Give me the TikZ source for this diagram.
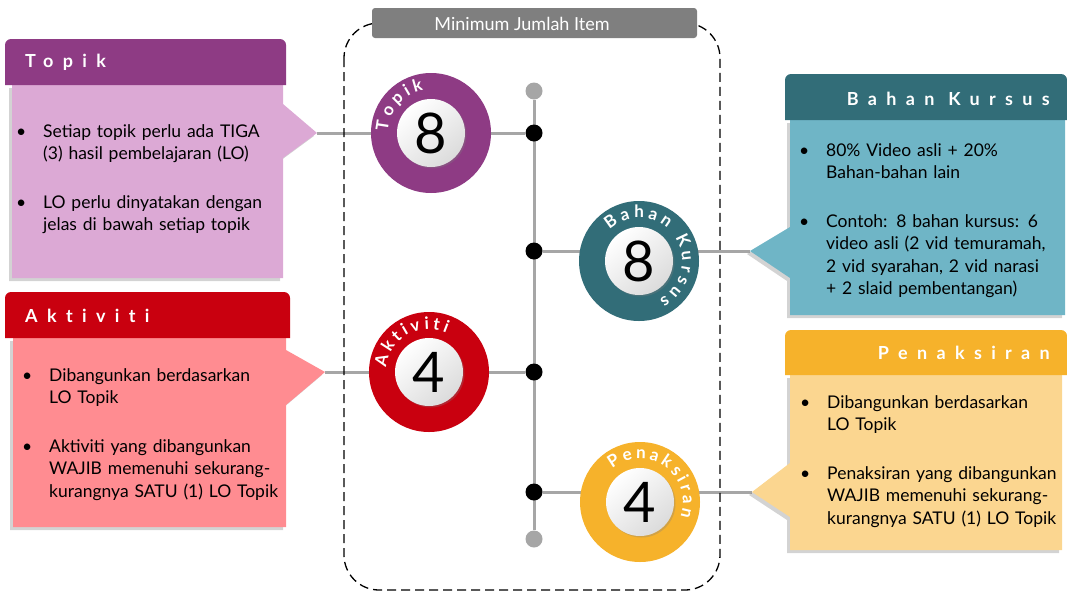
\documentclass[tikz,border=0pt]{standalone}
\usepackage{fontspec}
\setmainfont{Lato}
\usetikzlibrary{shadows,decorations.text}
\definecolor{tpk}{HTML}{8E3B84}
\definecolor{tpkL}{HTML}{DCA9D5}
\definecolor{akt}{HTML}{C9000F}
\definecolor{aktL}{HTML}{FF8C91}
\definecolor{bhn}{HTML}{326D78}
\definecolor{bhnL}{HTML}{6FB5C6}
\definecolor{pen}{HTML}{F6B22B}
\definecolor{penL}{HTML}{FBD690}
\definecolor{lgray}{HTML}{A6A6A6}
\definecolor{dgray}{HTML}{7F7F7F}
\pgfdeclarelayer{bg}
\pgfsetlayers{bg,main}
\newcommand\nl{\hfil\break}
\newcommand\bitem[1]{\noindent\hangindent=27pt\hangafter=1\makebox[27pt][l]{\textbullet}#1\par}
\begin{document}
\begin{tikzpicture}[x=1pt,y=1pt,
  conn/.style={draw=lgray,line width=3pt},
  bodyshape/.style={drop shadow={shadow xshift=-3pt,shadow yshift=-3pt,opacity=.35}},
  hdrtext/.style={font=\fontsize{18}{18}\selectfont\bfseries\addfontfeature{LetterSpace=52,Ligatures=NoCommon},text=white,inner sep=0pt},
  bodytext/.style={font=\fontsize{17.5}{22.5}\selectfont,text width=300pt,inner sep=0pt,anchor=base west,text=black},
  ring/.style={circle,minimum size=120pt,inner sep=0pt},
  ball/.style={circle,minimum size=68pt,inner sep=0pt,shading=axis,top color=white,bottom color=gray!28,shading angle=40,
     drop shadow={shadow xshift=1.5pt,shadow yshift=-1.5pt,opacity=.3},font=\fontsize{56}{56}\selectfont},
  bigdot/.style={circle,fill=black,minimum size=17pt,inner sep=0pt},
  enddot/.style={circle,fill=lgray,minimum size=17pt,inner sep=0pt},
  arclabel/.style={decorate,decoration={text along path,text align={fit to path},
     text={|\fontsize{17}{17}\selectfont\bfseries\color{white}|#1}}}
]
\useasboundingbox (0,0) rectangle (1067,-592);

% dashed frame and its title
\draw[line width=1.3pt,dash pattern=on 9pt off 5pt,rounded corners=35pt] (344,-23) rectangle (720,-590);
\node[fill=dgray,rounded corners=3pt,minimum width=325pt,minimum height=30pt,inner sep=0pt] (lblbox) at (534.5,-23) {};
\node[text=white,font=\fontsize{18}{18}\selectfont,inner sep=0pt] (lbltxt) at (522,-24) {Minimum Jumlah Item};

% ---------- Topik box
\path[fill=tpkL,bodyshape] (12,-85) -- (283,-85) -- (283,-104) -- (317,-133) -- (283,-158) -- (283,-278) -- (12,-278) -- cycle;
\coordinate (tpkTip) at (317,-133);
\fill[tpk] (5,-85) [rounded corners=6pt] -- (5,-39) -- (286,-39) [sharp corners] -- (286,-85) -- cycle;
\node[hdrtext,anchor=west] (tpkH) at (25,-62) {Topik};
\node[bodytext] (tpkT) at (16,-137) {\bitem{Setiap topik perlu ada TIGA\nl(3) hasil pembelajaran (LO)}\vspace{26pt}\bitem{LO perlu dinyatakan dengan\nl jelas di bawah setiap topik}};

% ---------- Aktiviti box
\path[fill=aktL,bodyshape] (13,-338) -- (286,-338) -- (286,-350) -- (325,-372) -- (286,-405) -- (286,-527) -- (13,-527) -- cycle;
\coordinate (aktTip) at (325,-372);
\fill[akt] (5,-338) [rounded corners=6pt] -- (5,-292) -- (290,-292) [sharp corners] -- (290,-338) -- cycle;
\node[hdrtext,anchor=west] (aktH) at (25,-316) {Aktiviti};
\node[bodytext] (aktT) at (22,-381) {\bitem{Dibangunkan berdasarkan\nl LO Topik}\vspace{26pt}\bitem{Aktiviti yang dibangunkan\nl WAJIB memenuhi sekurang-\nl kurangnya SATU (1) LO Topik}};

% ---------- Bahan Kursus box
\path[fill=bhnL,bodyshape] (790,-120) -- (1065,-120) -- (1065,-315) -- (790,-315) -- (790,-278) -- (750,-251) -- (790,-227) -- cycle;
\coordinate (bhnTip) at (750,-251);
\fill[bhn] (785,-120) [rounded corners=6pt] -- (785,-74) -- (1067,-74) [sharp corners] -- (1067,-120) -- cycle;
\node[hdrtext,anchor=east] (bhnH) at (1050,-99) {Bahan Kursus};
\node[bodytext] (bhnT) at (799,-156) {\bitem{80\% Video asli + 20\%\nl Bahan-bahan lain}\vspace{26pt}\bitem{Contoh: 8 bahan kursus: 6\nl video asli (2 vid temuramah,\nl 2 vid syarahan, 2 vid narasi\nl + 2 slaid pembentangan)}};

% ---------- Penaksiran box
\path[fill=penL,bodyshape] (790,-375) -- (1062,-375) -- (1062,-550) -- (790,-550) -- (790,-517) -- (752,-492) -- (790,-463) -- cycle;
\coordinate (penTip) at (752,-492);
\fill[pen] (785,-375) [rounded corners=6pt] -- (785,-330) -- (1067,-330) [sharp corners] -- (1067,-375) -- cycle;
\node[hdrtext,anchor=east] (penH) at (1050,-353) {Penaksiran};
\node[bodytext] (penT) at (800,-408) {\bitem{Dibangunkan berdasarkan\nl LO Topik}\vspace{26pt}\bitem{Penaksiran yang dibangunkan\nl WAJIB memenuhi sekurang-\nl kurangnya SATU (1) LO Topik}};

% ---------- spine and dots
\node[enddot] (top) at (534,-91) {};
\node[enddot] (bot) at (534,-539) {};
\node[bigdot] (d1) at (534,-133) {};
\node[bigdot] (d2) at (534,-251) {};
\node[bigdot] (d3) at (534,-372) {};
\node[bigdot] (d4) at (534,-492) {};

% ---------- rings
\node[ring,fill=tpk] (tpkC) at (431,-133) {};
\node[ball] (tpkB) at (tpkC) {8};
\path[arclabel=Topik] ([shift={(178:43)}]tpkC.center) arc[start angle=178,end angle=100,radius=43];

\node[ring,fill=bhn] (bhnC) at (639,-261) {};
\node[ball] (bhnB) at (bhnC) {8};
\path[arclabel=Bahan Kursus] ([shift={(133:43)}]bhnC.center) arc[start angle=133,end angle=-62,radius=43];

\node[ring,fill=akt] (aktC) at (429,-372) {};
\node[ball] (aktB) at (aktC) {4};
\path[arclabel=Aktiviti] ([shift={(174:43)}]aktC.center) arc[start angle=174,end angle=66,radius=43];

\node[ring,fill=pen] (penC) at (640,-502) {};
\node[ball] (penB) at (penC) {4};
\path[arclabel=Penaksiran] ([shift={(130:43)}]penC.center) arc[start angle=130,end angle=-20,radius=43];

% ---------- connectors
\begin{pgfonlayer}{bg}
\draw[conn] (top) -- (bot);
\draw[conn] (tpkTip) -- (d1);
\draw[conn] (d2) -- (bhnTip);
\draw[conn] (aktTip) -- (d3);
\draw[conn] (d4) -- (penTip);
\end{pgfonlayer}
\end{tikzpicture}
\end{document}
